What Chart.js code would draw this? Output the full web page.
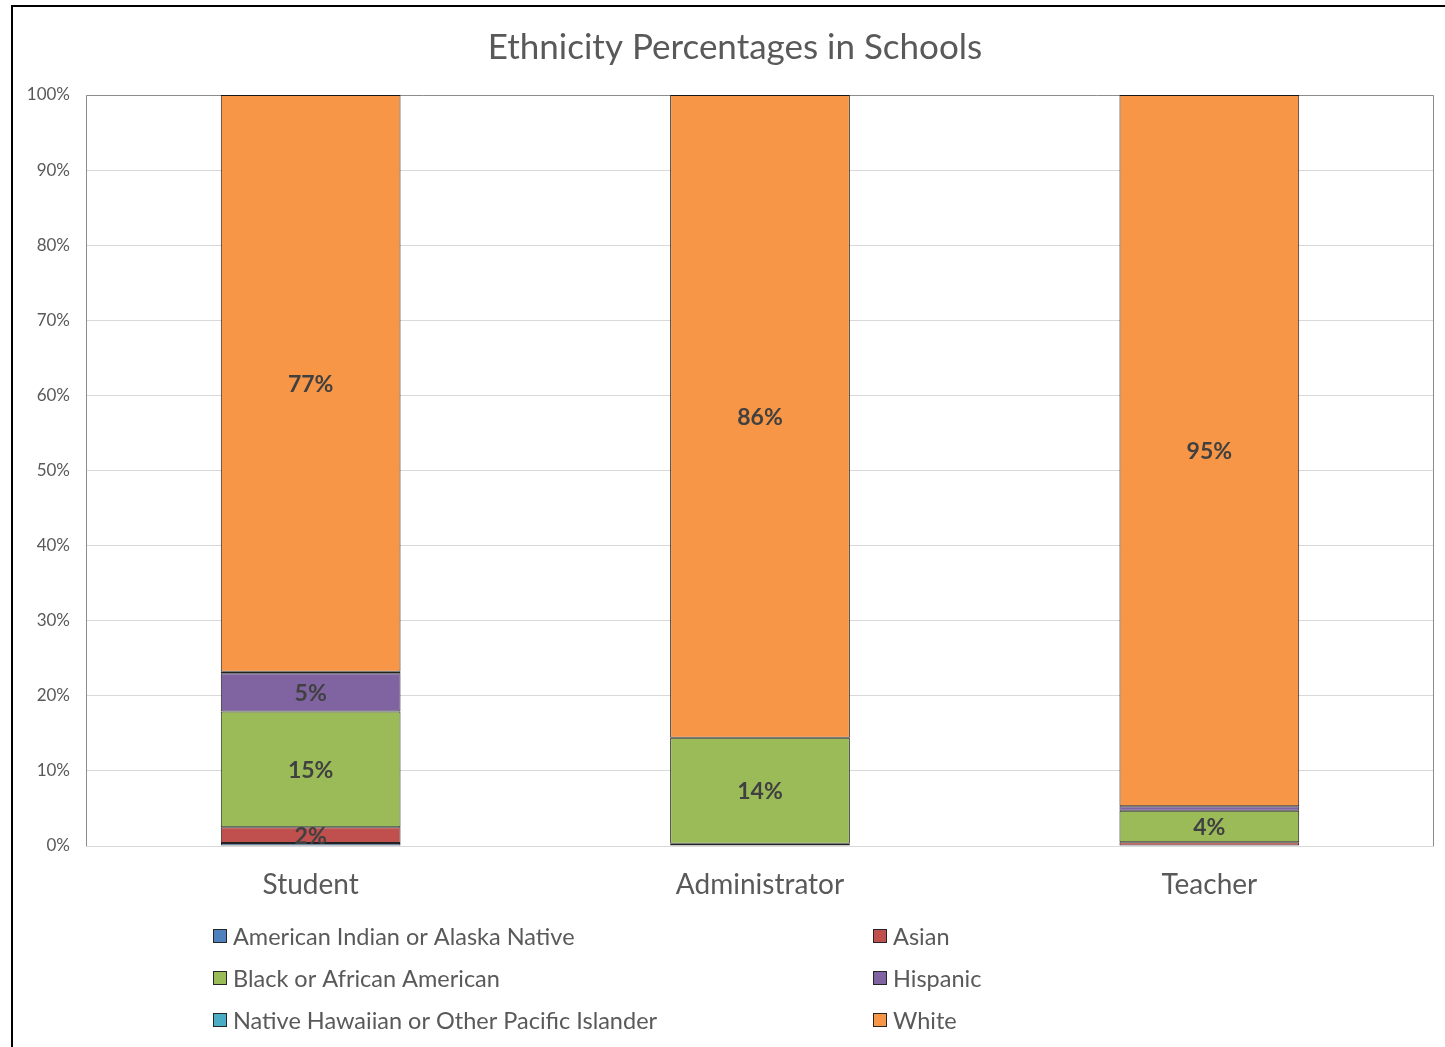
<!DOCTYPE html>
<html>
<head>
<meta charset="utf-8">
<title>Ethnicity Percentages in Schools</title>
<script src="https://cdn.jsdelivr.net/npm/chart.js@4.4.1/dist/chart.umd.min.js"></script>
<style>
  html, body { margin: 0; padding: 0; background: #fff; overflow: hidden; }
  #frame {
    position: absolute; left: 11px; top: 5px;
    width: 1446px; height: 1050px;
    border: 2px solid #000; background: #fff;
  }
  canvas { display: block; }
</style>
</head>
<body>
<div id="frame"><canvas id="ethnicityChart" width="1446" height="1050"></canvas></div>
<script>
const roles = ['Student', 'Administrator', 'Teacher'];

const americanIndian = [0.4, 0.0, 0.0];
const asian          = [2.1, 0.3, 0.5];
const black          = [15.4, 14.1, 4.2];
const hispanic       = [5.1, 0.0, 0.6];
const pacificIslander = [0.2, 0.0, 0.0];
const white          = [76.8, 85.6, 94.7];

const yTicks = [0, 10, 20, 30, 40, 50, 60, 70, 80, 90, 100];

const chartTitle = 'Ethnicity Percentages in Schools';
const textGray = '#595959';
const font = 'Lato, "Open Sans", sans-serif';

function series(label, data, color) {
  return {
    label: label,
    data: data,
    backgroundColor: color,
    borderColor: 'rgba(10,10,10,0.9)',
    borderWidth: 1,
    borderSkipped: false,
    barPercentage: 0.4,
    categoryPercentage: 1.0
  };
}

// title centred on the whole frame, not just the plot
const frameTitle = {
  id: 'frameTitle',
  afterDraw(chart) {
    const ctx = chart.ctx;
    ctx.save();
    ctx.font = '35px ' + font;
    ctx.fillStyle = textGray;
    ctx.textAlign = 'center';
    ctx.textBaseline = 'middle';
    ctx.fillText(chartTitle, chart.width / 2 - 1, 41);
    ctx.restore();
  }
};

// gray outline around the plot area
const plotFrame = {
  id: 'plotFrame',
  beforeDatasetsDraw(chart) {
    const { ctx, chartArea: a } = chart;
    ctx.save();
    ctx.strokeStyle = '#8c8c8c';
    ctx.lineWidth = 1;
    ctx.beginPath();
    ctx.moveTo(a.left + 0.5, a.bottom);
    ctx.lineTo(a.left + 0.5, a.top + 0.5);
    ctx.lineTo(a.right - 0.5, a.top + 0.5);
    ctx.lineTo(a.right - 0.5, a.bottom);
    ctx.stroke();
    ctx.restore();
  }
};

// percentage labels inside the segments
const segmentLabels = {
  id: 'segmentLabels',
  afterDatasetsDraw(chart) {
    const ctx = chart.ctx;
    ctx.save();
    ctx.font = 'bold 23px ' + font;
    ctx.fillStyle = '#404040';
    ctx.textAlign = 'center';
    ctx.textBaseline = 'middle';
    chart.data.datasets.forEach((ds, i) => {
      chart.getDatasetMeta(i).data.forEach((bar, j) => {
        const v = ds.data[j];
        if (v < 1) return;
        ctx.fillText(Math.round(v) + '%', bar.x, (bar.y + bar.base) / 2 + 1);
      });
    });
    ctx.restore();
  }
};

// two-column legend under the axis
const legendBlock = {
  id: 'legendBlock',
  afterDraw(chart) {
    const { ctx, chartArea: a } = chart;
    const colX = [200, 860];
    const rowY = [a.bottom + 90, a.bottom + 132, a.bottom + 174];
    ctx.save();
    ctx.font = '23.5px ' + font;
    ctx.textBaseline = 'middle';
    chart.data.datasets.forEach((ds, i) => {
      const x = colX[i % 2];
      const y = rowY[Math.floor(i / 2)];
      ctx.fillStyle = ds.backgroundColor;
      ctx.fillRect(x, y - 7, 14, 14);
      ctx.strokeStyle = '#262626';
      ctx.lineWidth = 1;
      ctx.strokeRect(x + 0.5, y - 6.5, 13, 13);
      ctx.fillStyle = textGray;
      ctx.fillText(ds.label, x + 20, y + 1);
    });
    ctx.restore();
  }
};

new Chart(document.getElementById('ethnicityChart'), {
  type: 'bar',
  data: {
    labels: roles,
    datasets: [
      series('American Indian or Alaska Native', americanIndian, '#4f81bd'),
      series('Asian', asian, '#c0504d'),
      series('Black or African American', black, '#9bbb59'),
      series('Hispanic', hispanic, '#8064a2'),
      series('Native Hawaiian or Other Pacific Islander', pacificIslander, '#4bacc6'),
      series('White', white, '#f79646')
    ]
  },
  options: {
    responsive: false,
    animation: false,
    layout: { padding: { left: 0, right: 25, top: 88, bottom: 141 } },
    plugins: {
      legend: { display: false },
      tooltip: { enabled: false },
      title: { display: false }
    },
    scales: {
      x: {
        stacked: true,
        grid: { display: false, drawTicks: false },
        border: { display: false },
        ticks: { color: textGray, font: { family: font, size: 28 }, padding: 22 },
        afterFit: s => { s.height = 70; }
      },
      y: {
        stacked: true,
        min: 0,
        max: 100,
        afterBuildTicks: s => { s.ticks = yTicks.map(v => ({ value: v })); },
        grid: { color: '#d9d9d9', drawTicks: false },
        border: { display: false },
        ticks: {
          color: textGray,
          font: { family: font, size: 17 },
          padding: 16,
          callback: v => v + '%'
        },
        afterFit: s => { s.width = 73; }
      }
    }
  },
  plugins: [frameTitle, plotFrame, segmentLabels, legendBlock]
});
</script>
</body>
</html>
